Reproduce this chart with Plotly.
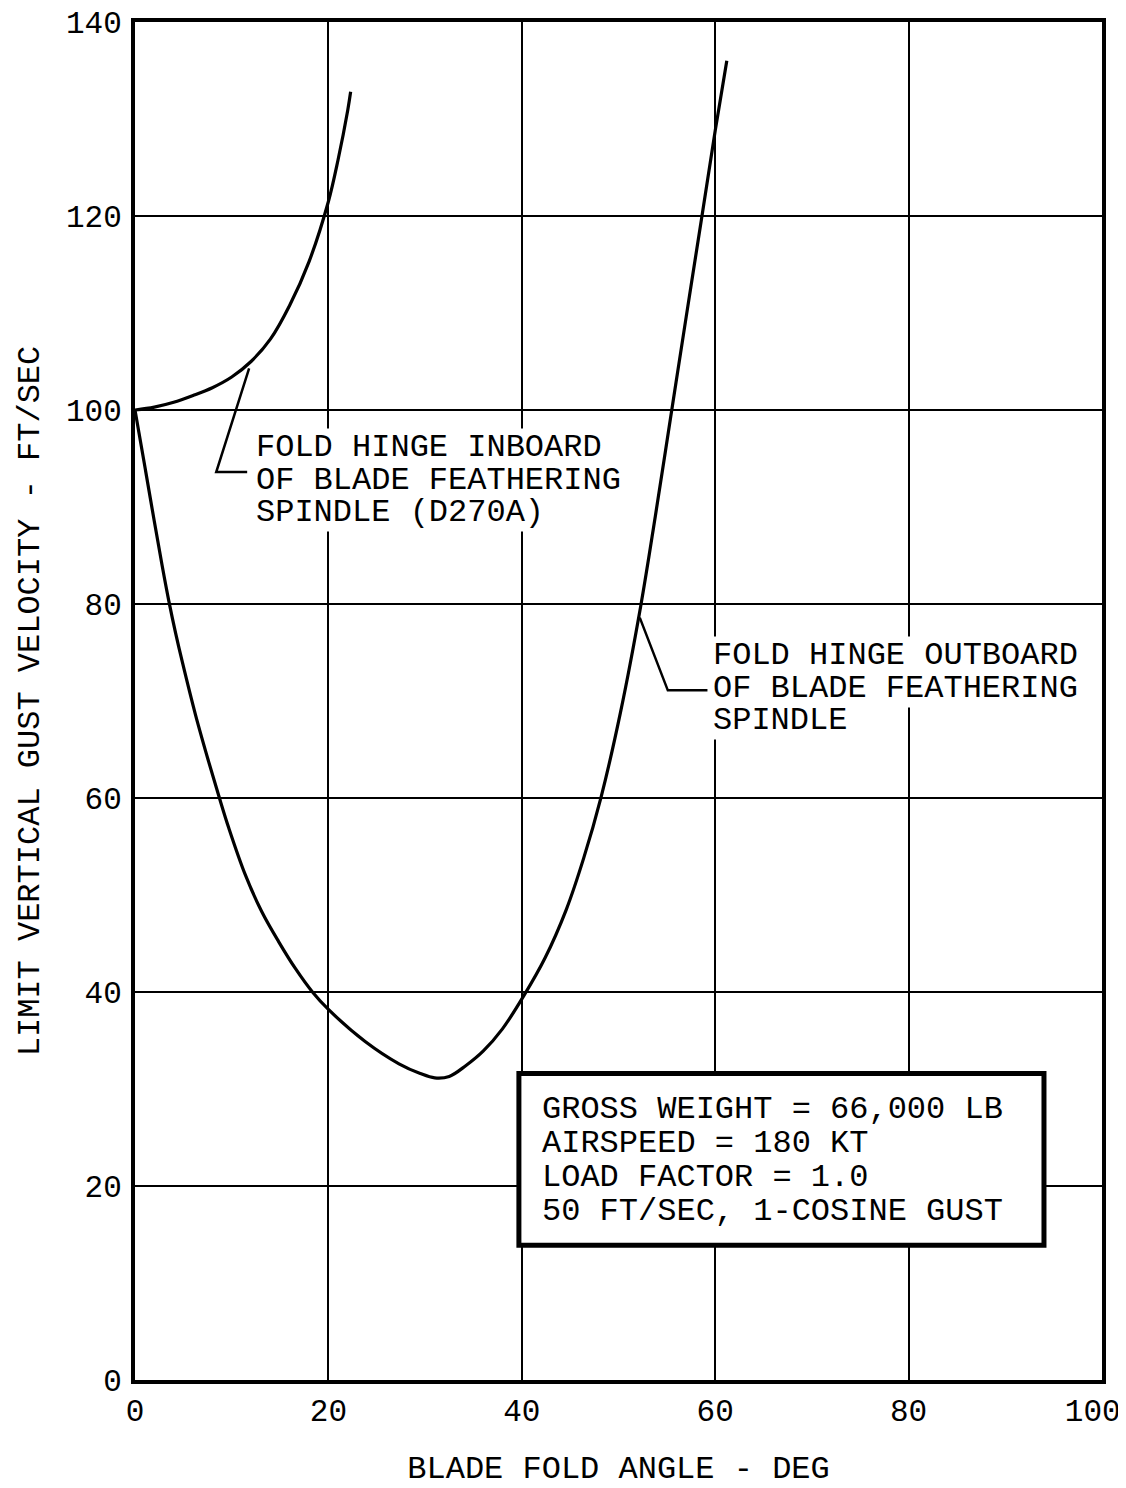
import plotly.graph_objects as go

# ---- data ----
inboard_x = [0, 2, 4, 6, 8, 10, 12, 14, 16, 18, 20, 21, 22, 22.3]
inboard_y = [100, 100.3, 100.8, 101.5, 102.3, 103.4, 105.0, 107.3, 110.8, 115.3, 121.5, 125.8, 130.9, 132.8]

outboard_x = [0, 0.4, 1.1, 2, 2.8, 3.5, 4.2, 4.9, 6.25, 7.6, 8.7, 9.7, 11.4, 13.1, 14.85, 16.6, 18.35,
              20, 23.8, 27.3, 29.5, 31, 32.5, 34.2, 36, 38, 40.2, 42.4, 44.6, 46.4, 48.2,
              50.2, 52.3, 53.8, 55.4, 57, 58.6, 60, 61.2]
outboard_y = [100, 97.7, 93.7, 88.5, 84.0, 80.3, 77.0, 74.0, 68.6, 63.8, 60.1, 56.9, 52.1, 48.3, 45.2, 42.4, 40.0,
              38.2, 34.9, 32.6, 31.6, 31.15, 31.3, 32.4, 33.9, 36.2, 39.6, 43.5, 48.5, 53.8, 60.1,
              68.8, 79.8, 89.0, 99.3, 109.6, 119.8, 128.8, 136]

# leader lines for the callouts
inboard_leader_x = [11.8, 8.4, 11.6]
inboard_leader_y = [104.3, 93.6, 93.6]
outboard_leader_x = [52.2, 55.1, 59.2]
outboard_leader_y = [78.6, 71.1, 71.1]

# callout text
inboard_lines = ["FOLD HINGE INBOARD", "OF BLADE FEATHERING", "SPINDLE (D270A)"]
inboard_text_x = 12.4
inboard_text_y = [96.1, 92.7, 89.4]

outboard_lines = ["FOLD HINGE OUTBOARD", "OF BLADE FEATHERING", "SPINDLE"]
outboard_text_x = 59.7
outboard_text_y = [74.7, 71.3, 68.0]

box_lines = ["GROSS WEIGHT = 66,000 LB", "AIRSPEED = 180 KT", "LOAD FACTOR = 1.0",
             "50 FT/SEC, 1-COSINE GUST"]
box_text_x = 42.0
box_text_y = [27.9, 24.4, 20.9, 17.4]
box_x = [39.7, 94.0]
box_y = [13.9, 31.6]

x_ticks = [0, 20, 40, 60, 80, 100]
x_tick_text = ["0", "20", "40", "60", "80", "100\u00a0"]
y_ticks = [0, 20, 40, 60, 80, 100, 120, 140]

FONT = "Liberation Mono"

fig = go.Figure()
fig.add_trace(go.Scatter(x=inboard_x, y=inboard_y, mode="lines", line=dict(color="black", width=3.2, shape="spline"), showlegend=False))
fig.add_trace(go.Scatter(x=outboard_x, y=outboard_y, mode="lines", line=dict(color="black", width=3.2, shape="spline"), showlegend=False))
fig.add_trace(go.Scatter(x=inboard_leader_x, y=inboard_leader_y, mode="lines", line=dict(color="black", width=2.5), showlegend=False))
fig.add_trace(go.Scatter(x=outboard_leader_x, y=outboard_leader_y, mode="lines", line=dict(color="black", width=2.5), showlegend=False))

fig.add_shape(type="rect", xref="x", yref="y", x0=box_x[0], x1=box_x[1], y0=box_y[0], y1=box_y[1],
              fillcolor="white", line=dict(color="black", width=5), layer="above")

annos = []
for lines, tx, tys, bg in [(inboard_lines, inboard_text_x, inboard_text_y, "white"),
                           (outboard_lines, outboard_text_x, outboard_text_y, "white"),
                           (box_lines, box_text_x, box_text_y, "rgba(0,0,0,0)")]:
    for t, ty in zip(lines, tys):
        annos.append(dict(x=tx, y=ty, xref="x", yref="y", text=t, showarrow=False,
                          xanchor="left", yanchor="middle", bgcolor=bg, borderpad=0,
                          font=dict(family=FONT, size=32, color="black")))

fig.update_layout(
    width=1118, height=1480,
    margin=dict(l=127, r=24, t=14, b=108),
    paper_bgcolor="white", plot_bgcolor="white",
    annotations=annos,
    font=dict(family=FONT, color="black"),
)
fig.update_xaxes(range=[0, 100], tickvals=x_ticks, ticktext=x_tick_text, ticks="", showgrid=True,
                 gridcolor="black", gridwidth=2,
                 zeroline=False, showline=True, linecolor="black", linewidth=4, mirror=True,
                 tickfont=dict(family=FONT, size=31, color="black"), ticklabelstandoff=0,
                 ticklabeloverflow="allow",
                 title=dict(text="BLADE FOLD ANGLE - DEG", font=dict(family=FONT, size=32, color="black"), standoff=40),
                 automargin=False)
fig.update_yaxes(range=[0, 140], tickvals=y_ticks, ticks="", showgrid=True, gridcolor="black", gridwidth=2,
                 zeroline=False, showline=True, linecolor="black", linewidth=4, mirror=True,
                 tickfont=dict(family=FONT, size=31, color="black"), ticklabelstandoff=3,
                 ticklabeloverflow="allow",
                 title=dict(text="LIMIT VERTICAL GUST VELOCITY - FT/SEC", font=dict(family=FONT, size=32, color="black"), standoff=18),
                 automargin=False)

fig.write_html("out.html")
